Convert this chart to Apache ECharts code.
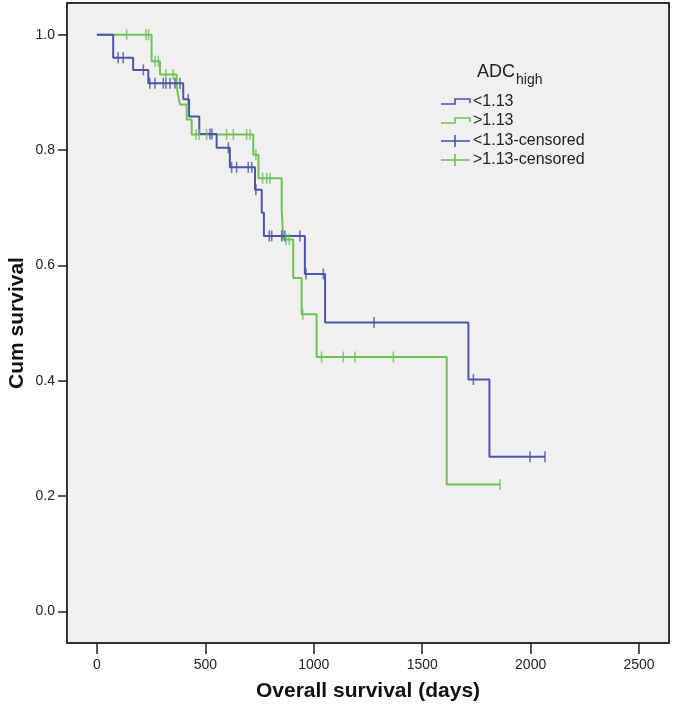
<!DOCTYPE html>
<html>
<head>
<meta charset="utf-8">
<script src="https://cdn.jsdelivr.net/npm/echarts@6/dist/echarts.min.js"></script>
<style>
html,body{margin:0;padding:0;background:#fff;}
#chart{width:674px;height:715px;}
</style>
</head>
<body>
<div id="chart"></div>
<script>
// ---- data ----
const xTicks = [0, 500, 1000, 1500, 2000, 2500];
const yTicks = [0, 0.2, 0.4, 0.6, 0.8, 1.0];

const legendTitle = 'ADC';
const legendTitleSub = 'high';
const seriesNames = ['<1.13', '>1.13', '<1.13-censored', '>1.13-censored'];

// group <1.13 : event times and survival after each step
const lowTimes = [0, 75, 167, 237, 398, 425, 472, 552, 613, 729, 760, 770, 959, 1052, 1713, 1810];
const lowSurv  = [1.0, 0.96, 0.939, 0.916, 0.888, 0.858, 0.828, 0.804, 0.770, 0.731, 0.691, 0.651, 0.585, 0.501, 0.402, 0.268];
const lowEnd = 2066;
const lowCensored = [98, 121, 214, 244, 268, 306, 318, 337, 360, 383, 421, 521, 530, 606, 621, 644, 698, 714, 733, 795, 806, 852, 867, 936, 964, 1044, 1278, 1736, 1997, 2066];

// group >1.13
const highTimes = [0, 252, 291, 368, 375, 383, 414, 437, 721, 745, 852, 859, 905, 944, 1013, 1613];
const highSurv  = [1.0, 0.954, 0.931, 0.910, 0.894, 0.879, 0.853, 0.827, 0.792, 0.751, 0.697, 0.645, 0.578, 0.515, 0.441, 0.220];
const highEnd = 1859;
const highCensored = [137, 226, 238, 268, 283, 318, 352, 457, 472, 506, 598, 629, 690, 706, 733, 764, 783, 798, 872, 887, 949, 1036, 1136, 1190, 1367, 1859];

const blue = '#4a56a9';
const green = '#6fc257';

function stepData(times, surv, end) {
  const pts = times.map((t, i) => [t, surv[i]]);
  pts.push([end, surv[surv.length - 1]]);
  return pts;
}
function survAt(times, surv, t) {
  let s = surv[0];
  for (let i = 0; i < times.length; i++) if (times[i] <= t) s = surv[i];
  return s;
}
function censorData(times, surv, cens) {
  return cens.map(t => [t, survAt(times, surv, t)]);
}

const chart = echarts.init(document.getElementById('chart'), null, {renderer: 'canvas'});
const font = 'Liberation Sans, Arial, sans-serif';

// legend drawn as graphic items (step icon / censor icon)
const lx0 = 441, lx1 = 470, ltx = 473;
const ly = [102, 121, 141, 160];
function stepIcon(y, color) {
  return {type: 'polyline', z: 100, silent: true,
    shape: {points: [[lx0, y + 2], [lx0 + 14, y + 2], [lx0 + 14, y - 3], [lx1, y - 3], [lx1, y + 1]]},
    style: {stroke: color, lineWidth: 1.6, fill: null}};
}
function censorIcon(y, color) {
  return [
    {type: 'line', z: 100, silent: true, shape: {x1: lx0, y1: y, x2: lx1, y2: y}, style: {stroke: color, lineWidth: 1.6}},
    {type: 'line', z: 100, silent: true, shape: {x1: lx0 + 14, y1: y - 6, x2: lx0 + 14, y2: y + 6}, style: {stroke: color, lineWidth: 1.6}}
  ];
}
function legendText(y, txt) {
  return {type: 'text', z: 100, silent: true, x: ltx, y: y,
    style: {text: txt, fill: '#222', font: '16px ' + font, verticalAlign: 'middle'}};
}

const graphics = [
  {type: 'text', z: 100, silent: true, x: 477, y: 72,
    style: {text: legendTitle, fill: '#222', font: '18px ' + font, verticalAlign: 'middle'}},
  {type: 'text', z: 100, silent: true, x: 516, y: 80,
    style: {text: legendTitleSub, fill: '#222', font: '14px ' + font, verticalAlign: 'middle'}},
  stepIcon(ly[0], blue), legendText(ly[0], seriesNames[0]),
  stepIcon(ly[1], green), legendText(ly[1], seriesNames[1]),
  ...censorIcon(ly[2], blue), legendText(ly[2], seriesNames[2]),
  ...censorIcon(ly[3], green), legendText(ly[3], seriesNames[3])
];

const option = {
  animation: false,
  backgroundColor: '#ffffff',
  textStyle: {fontFamily: font},
  grid: {left: 67, right: 5, top: 3, bottom: 72, show: true, containLabel: false, outerBoundsMode: 'none',
    backgroundColor: '#f0f0f0', borderColor: '#333', borderWidth: 2},
  xAxis: {
    type: 'value', min: -138, max: 2638,
    name: 'Overall survival (days)', nameLocation: 'middle', nameGap: 38, nameMoveOverlap: false,
    nameTextStyle: {fontSize: 21, fontWeight: 'bold', color: '#111', fontFamily: font},
    axisLine: {show: false, onZero: false},
    axisTick: {show: true, customValues: xTicks, length: 11, lineStyle: {color: '#222', width: 1.5}},
    axisLabel: {customValues: xTicks, margin: 15, fontSize: 14, color: '#222', fontFamily: font,
      formatter: v => String(v)},
    splitLine: {show: false}
  },
  yAxis: {
    type: 'value', min: -0.055, max: 1.055,
    name: 'Cum survival', nameLocation: 'middle', nameGap: 39, nameMoveOverlap: false,
    nameTextStyle: {fontSize: 21, fontWeight: 'bold', color: '#111', fontFamily: font},
    axisLine: {show: false, onZero: false},
    axisTick: {show: true, customValues: yTicks, length: 9, lineStyle: {color: '#222', width: 1.5}},
    axisLabel: {customValues: yTicks, margin: 12, fontSize: 14, color: '#222', fontFamily: font,
      formatter: v => v.toFixed(1)},
    splitLine: {show: false}
  },
  series: [
    {name: seriesNames[0], type: 'line', step: 'end', symbol: 'none', silent: true,
      data: stepData(lowTimes, lowSurv, lowEnd), lineStyle: {color: blue, width: 2}, z: 3},
    {name: seriesNames[1], type: 'line', step: 'end', symbol: 'none', silent: true,
      data: stepData(highTimes, highSurv, highEnd), lineStyle: {color: green, width: 2}, z: 2},
    {name: seriesNames[2], type: 'scatter', symbol: 'rect', symbolSize: [1.6, 11], silent: true,
      data: censorData(lowTimes, lowSurv, lowCensored), itemStyle: {color: blue}, z: 4},
    {name: seriesNames[3], type: 'scatter', symbol: 'rect', symbolSize: [1.6, 11], silent: true,
      data: censorData(highTimes, highSurv, highCensored), itemStyle: {color: green}, z: 4}
  ],
  graphic: graphics
};
chart.setOption(option);
</script>
</body>
</html>
